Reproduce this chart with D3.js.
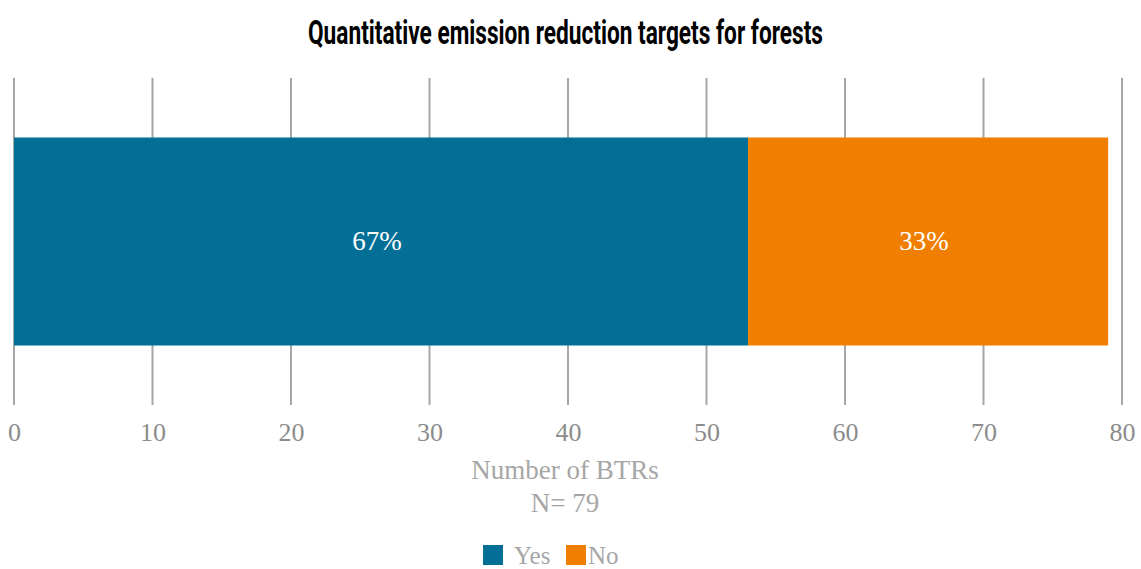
<!DOCTYPE html>
<html>
<head>
<meta charset="utf-8">
<script src="https://cdn.jsdelivr.net/npm/d3@7"></script>
<style>
  html, body { margin: 0; padding: 0; background: #fff; }
  svg { display: block; }
</style>
</head>
<body>
<svg id="chart" width="1141" height="569"></svg>
<script>
// Share of BTRs with quantitative emission reduction targets for forests
const categories = ["Yes", "No"];
const counts = [53, 26];
const percents = ["67%", "33%"];
const colors = ["#046f96", "#f07e00"];
const tickValues = [0, 10, 20, 30, 40, 50, 60, 70, 80];
const total = 79;

const svg = d3.select("#chart");
const W = 1141, H = 569;
const margin = { left: 14, right: 19, top: 78, bottom: 164 };
const serif = "Georgia, 'Liberation Serif', 'DejaVu Serif', serif";

const x = d3.scaleLinear().domain([0, 80]).range([margin.left, W - margin.right]);
const y = d3.scaleBand().domain(["forests"]).range([margin.top, H - margin.bottom]).paddingInner(0).paddingOuter(0.286);

// Title (condensed bold heading)
svg.append("text")
  .attr("x", 308).attr("y", 44)
  .attr("textLength", 515)
  .attr("lengthAdjust", "spacingAndGlyphs")
  .style("font-family", "Roboto, 'Liberation Sans', sans-serif")
  .style("font-weight", "bold")
  .style("font-size", "33px")
  .style("fill", "#000")
  .text("Quantitative emission reduction targets for forests");

// Vertical gridlines
svg.append("g").selectAll("line").data(tickValues).join("line")
  .attr("x1", d => x(d)).attr("x2", d => x(d))
  .attr("y1", margin.top).attr("y2", H - margin.bottom)
  .attr("stroke", "#a6a6a6").attr("stroke-width", 2);

// Stacked segments
const stacked = [];
let acc = 0;
counts.forEach((c, i) => { stacked.push({ cat: categories[i], x0: acc, x1: acc + c, pct: percents[i], color: colors[i] }); acc += c; });

const bars = svg.append("g");
bars.selectAll("rect").data(stacked).join("rect")
  .attr("x", d => x(d.x0))
  .attr("width", d => x(d.x1) - x(d.x0))
  .attr("y", y("forests"))
  .attr("height", y.bandwidth())
  .attr("fill", d => d.color);

bars.selectAll("text").data(stacked).join("text")
  .attr("x", d => (x(d.x0) + x(d.x1)) / 2 - 4)
  .attr("y", y("forests") + y.bandwidth() / 2 + 8)
  .attr("text-anchor", "middle")
  .style("font-family", serif)
  .style("font-size", "27px")
  .style("fill", "#fff")
  .text(d => d.pct);

// Axis tick labels
const axis = d3.axisBottom(x).tickValues(tickValues).tickSize(0).tickPadding(0);
const gAxis = svg.append("g").attr("transform", `translate(0, ${H - margin.bottom + 18})`).call(axis);
gAxis.select(".domain").remove();
gAxis.selectAll("text")
  .attr("dy", "0.71em")
  .style("font-family", serif)
  .style("font-size", "26px")
  .style("fill", "#8c8c8c");

// Axis title
const axisTitle = svg.append("text")
  .attr("text-anchor", "middle")
  .style("font-family", serif)
  .style("font-size", "27px")
  .style("fill", "#a6a6a6");
axisTitle.append("tspan").attr("x", x(40) - 3).attr("y", 479).text("Number of BTRs");
axisTitle.append("tspan").attr("x", x(40) - 3).attr("y", 512).text("N= " + total);

// Legend
const legend = svg.append("g").attr("transform", "translate(483, 545)");
const items = [{ label: "Yes", dx: 0 }, { label: "No", dx: 83 }];
items.forEach((it, i) => {
  const g = legend.append("g").attr("transform", `translate(${it.dx}, 0)`);
  g.append("rect").attr("width", 20).attr("height", 20).attr("fill", colors[i]);
  g.append("text").attr("x", i === 0 ? 31 : 22).attr("y", 19)
    .style("font-family", serif)
    .style("font-size", "25px")
    .style("fill", "#a6a6a6")
    .text(categories[i]);
});
</script>
</body>
</html>
